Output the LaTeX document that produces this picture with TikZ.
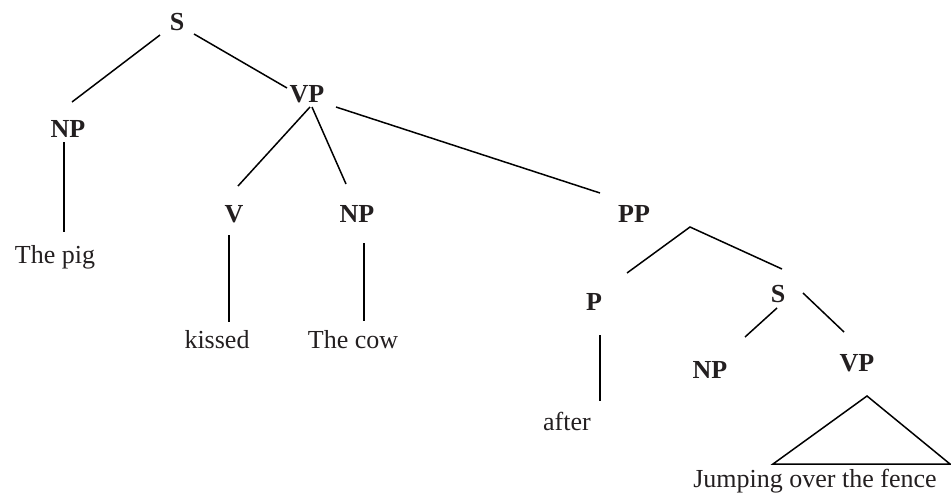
\documentclass[tikz,border=0pt]{standalone}
\usepackage{fontspec}
\setmainfont{Liberation Serif}
\usetikzlibrary{calc}
\definecolor{ink}{RGB}{35,31,32}
\tikzset{
  cat/.style={anchor=base, inner sep=0pt, text=ink, font=\fontsize{26}{30}\selectfont\bfseries},
  word/.style={anchor=base, inner sep=0pt, text=ink, font=\fontsize{26}{30}\selectfont},
  branch/.style={draw=black, line width=1.5pt}
}
\begin{document}
\begin{tikzpicture}[x=1pt,y=-1pt]
\useasboundingbox (0,0) rectangle (951,499);
% category nodes
\node[cat] (S)   at (177,30)  {S};
\node[cat] (NPa) at (68,137)  {NP};
\node[cat] (VPa) at (307,102) {VP};
\node[cat] (Vb)  at (234,222) {V};
\node[cat] (NPb) at (357,222) {NP};
\node[cat] (PP)  at (634,222) {PP};
\node[cat] (P)   at (594,310) {P};
\node[cat] (Sb)  at (778,302) {S};
\node[cat] (NPc) at (710,378) {NP};
\node[cat] (VPc) at (857,371) {VP};
% words
\node[word] (pig)    at (55,263)  {The pig};
\node[word] (kissed) at (217,348) {kissed};
\node[word] (cow)    at (353,348) {The cow};
\node[word] (after)  at (567,430) {after};
\node[word] (jump)   at (815,487) {Jumping over the fence};
% branches
\draw[branch] ($(S.base)+(-17,5)$) -- ($(NPa.base)+(4,-35)$);
\draw[branch] ($(S.base)+(17,4)$) -- ($(VPa.base)+(-20,-14)$);
\draw[branch] ($(NPa.base)+(-4,5)$) -- ($(pig.base)+(9,-31)$);
\draw[branch] ($(VPa.base)+(3,5)$) -- ($(Vb.base)+(4,-36)$);
\draw[branch] ($(VPa.base)+(5,5)$) -- ($(NPb.base)+(-11,-38)$);
\draw[branch] ($(VPa.base)+(29,5)$) -- ($(PP.base)+(-34,-29)$);
\draw[branch] ($(Vb.base)+(-5,13)$) -- ($(kissed.base)+(12,-26)$);
\draw[branch] ($(NPb.base)+(7,21)$) -- ($(cow.base)+(11,-27)$);
\draw[branch] ($(P.base)+(33,-37)$) -- ($(PP.base)+(56,5)$) -- ($(Sb.base)+(4,-33)$);
\draw[branch] ($(P.base)+(6,25)$) -- ($(after.base)+(33,-29)$);
\draw[branch] ($(Sb.base)+(-1,6)$) -- ($(NPc.base)+(35,-41)$);
\draw[branch] ($(Sb.base)+(25,-9)$) -- ($(VPc.base)+(-13,-39)$);
\draw[branch, line join=miter] ($(jump.base)+(-42,-23)$) -- ($(VPc.base)+(10,25)$) -- ($(jump.base)+(135,-23)$) -- cycle;
\end{tikzpicture}
\end{document}
